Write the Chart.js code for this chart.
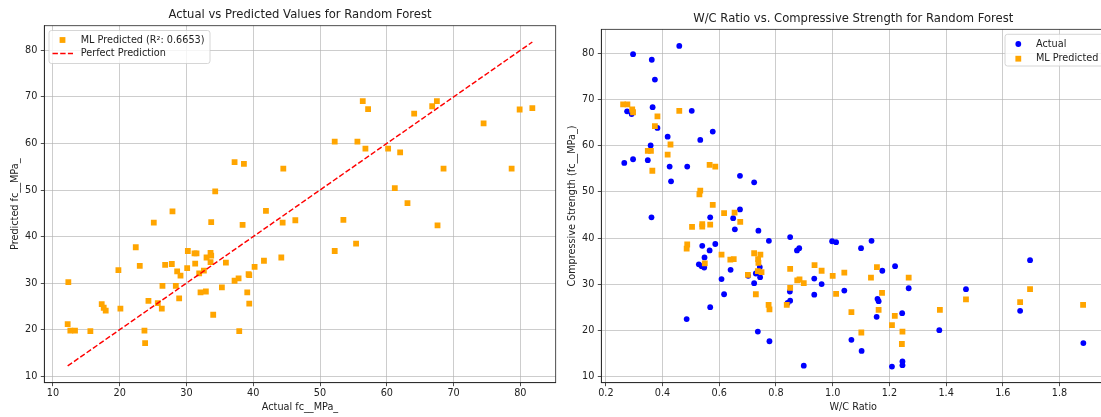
<!DOCTYPE html>
<html>
<head>
<meta charset="utf-8">
<script src="https://cdn.jsdelivr.net/npm/chart.js@4.4.0/dist/chart.umd.min.js"></script>
<style>
  html, body { margin: 0; padding: 0; background: #fff; overflow: hidden; }
  #wrap { position: relative; width: 1101px; height: 417px; overflow: hidden; }
  canvas { position: absolute; top: 0; }
  #left { left: 0; }
  #right { left: 560px; }
</style>
</head>
<body>
<div id="wrap">
  <canvas id="left" width="560" height="417"></canvas>
  <canvas id="right" width="550" height="417"></canvas>
</div>
<script>
// left plot: actual vs predicted
const actualFc = [12.2, 12.3, 12.6, 13.3, 15.6, 17.3, 17.6, 17.9, 19.8, 20.1,
  22.4, 23.0, 23.7, 23.8, 24.3, 25.1, 25.7, 26.3, 26.4, 26.8,
  27.8, 27.9, 28.4, 28.6, 28.9, 29.1, 30.1, 30.2, 31.2, 31.5,
  31.3, 31.9, 32.1, 32.9, 32.6, 33.0, 33.6, 33.7, 33.7, 34.0,
  33.6, 34.3, 35.3, 35.9, 37.2, 37.2, 37.8, 37.9, 38.6, 38.4,
  39.1, 39.3, 39.4, 39.4, 40.2, 41.6, 41.9, 44.2, 44.4, 44.5,
  46.3, 52.2, 52.2, 53.5, 55.4, 55.6, 56.4, 56.8, 57.2, 60.2,
  61.2, 62.0, 63.1, 64.1, 66.8, 67.5, 67.6, 68.5, 74.5, 78.7,
  79.9, 81.8];
const predictedFc = [21.2, 30.2, 19.8, 19.8, 19.7, 25.5, 24.7, 24.1, 32.8, 24.5,
  37.7, 33.7, 19.8, 17.1, 26.2, 43.0, 25.7, 24.5, 29.4, 33.9,
  34.1, 45.4, 29.4, 32.5, 26.7, 31.6, 33.2, 36.9, 36.4, 36.4,
  34.2, 32.1, 28.0, 28.2, 32.7, 35.5, 36.5, 35.9, 43.1, 23.2,
  34.5, 49.7, 29.1, 34.4, 56.0, 30.5, 31.0, 19.7, 55.6, 42.5,
  28.0, 31.9, 31.7, 25.6, 33.5, 34.8, 45.5, 35.5, 43.0, 54.6,
  43.5, 60.4, 36.9, 43.6, 38.5, 60.4, 69.1, 58.9, 67.4, 58.9,
  50.4, 58.1, 47.2, 66.4, 68.0, 69.1, 42.4, 54.6, 64.3, 54.6,
  67.3, 67.6];
const leftXTicks = [10, 20, 30, 40, 50, 60, 70, 80];
const leftYTicks = [10, 20, 30, 40, 50, 60, 70, 80];

// right plot: w/c ratio vs strength
const wcActual = [0.459, 0.296, 0.362, 0.373, 0.275, 0.291, 0.365, 0.503, 0.382, 0.418,
  0.577, 0.533, 0.358, 0.265, 0.296, 0.348, 0.425, 0.487, 0.673, 0.723,
  0.430, 0.361, 0.568, 0.673, 0.649,
  0.655, 0.738, 0.775, 0.850, 0.998, 1.012, 0.540, 0.586, 0.566, 0.548,
  0.528, 0.538, 0.547, 0.874, 0.882, 0.640, 0.608, 0.617, 0.568, 0.485,
  0.743, 0.740, 0.729, 0.744, 0.723, 0.702, 0.849, 0.850, 0.841, 0.935,
  0.961, 0.935, 1.041, 0.736, 0.777, 0.898,
  1.100, 1.137, 1.175, 1.220, 1.268, 1.158, 1.162, 1.155, 1.245, 1.066,
  1.102, 1.209, 1.246, 1.246, 1.376, 1.470, 1.661, 1.696, 1.884];
const fcActual = [81.7, 79.9, 78.7, 74.4, 67.5, 66.9, 68.4, 67.6, 63.9, 62.0,
  63.1, 61.3, 60.1, 56.3, 57.1, 56.9, 55.5, 55.5, 53.5, 52.1,
  52.3, 44.5, 44.5, 46.2, 44.3,
  41.9, 41.6, 39.4, 40.2, 39.3, 39.1, 38.3, 38.7, 37.3, 35.8,
  34.3, 33.9, 33.6, 37.3, 37.8, 33.1, 31.1, 27.8, 25.0, 22.4,
  33.7, 32.5, 32.3, 31.5, 30.2, 31.8, 28.4, 26.4, 25.9, 31.2,
  30.0, 27.7, 28.6, 19.7, 17.6, 12.3,
  37.8, 39.4, 32.9, 33.9, 29.1, 26.8, 26.3, 22.9, 23.7, 17.9,
  15.5, 12.1, 13.2, 12.4, 20.0, 28.9, 24.2, 35.2, 17.2];
const wcPred = [0.261, 0.276, 0.293, 0.296, 0.382, 0.459, 0.373, 0.428, 0.348, 0.359,
  0.418, 0.364, 0.566, 0.586, 0.533, 0.530, 0.577, 0.617, 0.654,
  0.674, 0.504, 0.540, 0.540, 0.568, 0.487, 0.485, 0.608, 0.639, 0.651,
  0.549, 0.723, 0.745, 0.737, 0.738, 0.736, 0.749, 0.701, 0.729, 0.774,
  0.777, 0.838, 0.850, 0.850, 0.875, 0.883, 0.898, 0.936, 0.961, 1.000,
  1.012, 1.041,
  1.066, 1.101, 1.135, 1.156, 1.174, 1.162, 1.219, 1.209, 1.246, 1.244,
  1.268, 1.378, 1.470, 1.661, 1.696, 1.883];
const fcPred = [69.0, 69.0, 67.9, 67.3, 66.4, 67.6, 64.3, 60.3, 58.9, 58.9,
  58.1, 54.6, 55.9, 55.5, 50.3, 49.5, 47.2, 45.4, 45.5,
  43.5, 42.4, 43.0, 42.5, 42.9, 38.6, 37.7, 36.4, 35.3, 35.4,
  34.5, 36.7, 36.4, 35.4, 34.6, 32.8, 32.6, 32.0, 27.8, 25.5,
  24.5, 25.5, 33.3, 29.2, 30.8, 31.0, 30.2, 34.1, 32.9, 31.8,
  27.9, 32.5,
  23.9, 19.5, 31.4, 33.7, 28.1, 24.4, 23.1, 21.1, 19.7, 17.0,
  31.4, 24.4, 26.7, 26.1, 28.9, 25.5];
const rightXTicks = [0.2, 0.4, 0.6, 0.8, 1.0, 1.2, 1.4, 1.6, 1.8];
const rightYTicks = [10, 20, 30, 40, 50, 60, 70, 80];

const toPoints = (xs, ys) => xs.map((x, i) => ({ x: x, y: ys[i] }));

Chart.defaults.font.family = '"DejaVu Sans", sans-serif';
Chart.defaults.color = '#222';

const INK = '#222';
const GRID = 'rgba(176,176,176,0.8)';

function axis(o) {
  return {
    type: 'linear',
    min: o.min,
    max: o.max,
    afterBuildTicks: s => { s.ticks = o.ticks.map(v => ({ value: v })); },
    afterFit: s => {
      if (o.width) s.width = o.width;
      if (o.height) s.height = o.height;
    },
    grid: { color: GRID, lineWidth: 0.8, tickColor: INK, tickLength: 3.5, tickWidth: 0.8 },
    border: { display: true, color: INK, width: 0.8 },
    ticks: {
      color: INK, font: { size: 9.7 }, padding: o.tickPad,
      maxRotation: 0, autoSkip: false,
      callback: o.fmt || (v => v)
    },
    title: { display: true, text: o.title, color: INK, font: { size: 9.7 }, padding: o.titlePad }
  };
}

// top/right spines (chart.js only draws the axis side)
const frame = {
  id: 'frame',
  afterDraw(chart) {
    const { ctx, chartArea: a } = chart;
    ctx.save();
    ctx.strokeStyle = INK;
    ctx.lineWidth = 0.8;
    ctx.strokeRect(a.left, a.top, a.right - a.left, a.bottom - a.top);
    ctx.restore();
  }
};

// matplotlib style legend box inside the axes
const boxLegend = {
  id: 'boxLegend',
  afterDatasetsDraw(chart, args, o) {
    const ctx = chart.ctx;
    ctx.save();
    ctx.beginPath();
    ctx.roundRect(o.x, o.y, o.w, o.h, 2.5);
    ctx.fillStyle = 'rgba(255,255,255,0.8)';
    ctx.fill();
    ctx.strokeStyle = '#cccccc';
    ctx.lineWidth = 0.8;
    ctx.stroke();
    chart.data.datasets.forEach((ds, i) => {
      const y = o.rowY + i * o.rowH;
      const mx = o.markX;
      if (ds.showLine) {
        ctx.strokeStyle = ds.borderColor;
        ctx.lineWidth = ds.borderWidth;
        ctx.setLineDash(ds.borderDash || []);
        ctx.beginPath();
        ctx.moveTo(mx - 10, y);
        ctx.lineTo(mx + 10.5, y);
        ctx.stroke();
        ctx.setLineDash([]);
      } else if (ds.pointStyle === 'rect') {
        ctx.fillStyle = ds.backgroundColor;
        ctx.fillRect(mx - 2.9, y - 2.9, 5.8, 5.8);
      } else {
        ctx.fillStyle = ds.backgroundColor;
        ctx.beginPath();
        ctx.arc(mx, y, 2.9, 0, Math.PI * 2);
        ctx.fill();
      }
      ctx.fillStyle = INK;
      ctx.font = '9.7px "DejaVu Sans"';
      ctx.textBaseline = 'middle';
      ctx.textAlign = 'left';
      ctx.fillText(ds.label, o.textX, y);
    });
    ctx.restore();
  }
};

const lineMin = Math.min(...actualFc);
const lineMax = Math.max(...actualFc);

new Chart(document.getElementById('left'), {
  data: {
    datasets: [
      {
        type: 'scatter',
        label: 'ML Predicted (R²: 0.6653)',
        data: toPoints(actualFc, predictedFc),
        pointStyle: 'rect',
        pointRadius: 4.1,
        backgroundColor: '#FFA500',
        borderColor: '#FFA500',
        borderWidth: 0,
        order: 1
      },
      {
        type: 'line',
        label: 'Perfect Prediction',
        data: [{ x: lineMin, y: lineMin }, { x: lineMax, y: lineMax }],
        showLine: true,
        borderColor: '#FF0000',
        borderWidth: 1.45,
        borderDash: [5.4, 2.3],
        pointRadius: 0,
        order: 0
      }
    ]
  },
  options: {
    responsive: false,
    devicePixelRatio: 1,
    animation: false,
    layout: { padding: { left: 0, right: 4.3, top: 0, bottom: 0 } },
    scales: {
      x: axis({ min: 8.7, max: 85.3, ticks: leftXTicks, height: 34.3, tickPad: 1.5,
        title: 'Actual fc__MPa_', titlePad: { top: 0, bottom: 4.2 } }),
      y: axis({ min: 8.6, max: 85.3, ticks: leftYTicks, width: 44.3, tickPad: 3.4,
        title: 'Predicted fc__MPa_', titlePad: { top: 9.2, bottom: 0 } })
    },
    plugins: {
      legend: { display: false },
      tooltip: { enabled: false },
      title: {
        display: true, fullSize: false,
        text: 'Actual vs Predicted Values for Random Forest',
        color: INK, font: { size: 11.6, weight: 'normal' },
        padding: { top: 8, bottom: 3.8 }
      },
      boxLegend: { x: 49, y: 30.5, w: 161, h: 33, rowY: 40, rowH: 13.5, markX: 62.5, textX: 80.7 }
    }
  },
  plugins: [frame, boxLegend]
});

new Chart(document.getElementById('right'), {
  type: 'scatter',
  data: {
    datasets: [
      {
        label: 'Actual',
        data: toPoints(wcActual, fcActual),
        pointStyle: 'circle',
        pointRadius: 2.9,
        backgroundColor: '#0000FF',
        borderColor: '#0000FF',
        borderWidth: 0,
        order: 1
      },
      {
        label: 'ML Predicted',
        data: toPoints(wcPred, fcPred),
        pointStyle: 'rect',
        pointRadius: 4.1,
        backgroundColor: '#FFA500',
        borderColor: '#FFA500',
        borderWidth: 0,
        order: 0
      }
    ]
  },
  options: {
    responsive: false,
    devicePixelRatio: 1,
    animation: false,
    layout: { padding: { left: 0, right: 4.8, top: 0, bottom: 0 } },
    scales: {
      x: axis({ min: 0.184, max: 1.961, ticks: rightXTicks, height: 34.3, tickPad: 1.5,
        fmt: v => v.toFixed(1),
        title: 'W/C Ratio', titlePad: { top: 0, bottom: 4.2 } }),
      y: axis({ min: 8.6, max: 85.3, ticks: rightYTicks, width: 41.3, tickPad: 3.4,
        title: 'Compressive Strength (fc__MPa_)', titlePad: { top: 6.2, bottom: 0 } })
    },
    plugins: {
      legend: { display: false },
      tooltip: { enabled: false },
      title: {
        display: true, fullSize: false,
        text: 'W/C Ratio vs. Compressive Strength for Random Forest',
        color: INK, font: { size: 11.6, weight: 'normal' },
        padding: { top: 12.3, bottom: 3.1 }
      },
      boxLegend: { x: 445, y: 34.3, w: 120, h: 31.7, rowY: 44, rowH: 14.7, markX: 458.3, textX: 476 }
    }
  },
  plugins: [frame, boxLegend]
});
</script>
</body>
</html>
